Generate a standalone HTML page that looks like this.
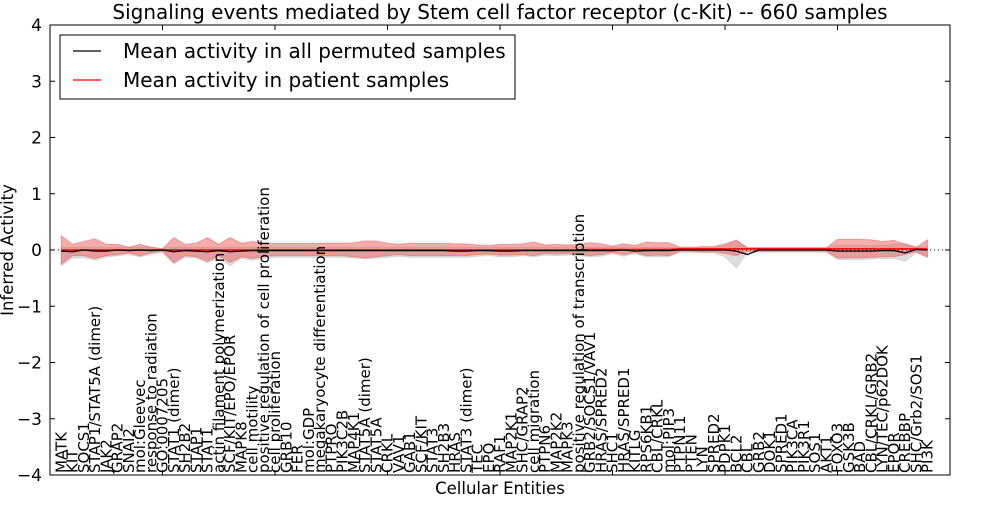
<!DOCTYPE html>
<html><head><meta charset="utf-8"><style>
body{margin:0;background:#fff;}
svg text{font-family:"DejaVu Sans","Liberation Sans",sans-serif;}
</style></head><body>
<svg id="chart" width="1000" height="500" viewBox="0 0 1000 500" xmlns="http://www.w3.org/2000/svg"></svg>
<script>
const labels=["MATK","KIT","SOCS1","STAP1/STAT5A (dimer)","JAK2","GRAP2","SNAI2","mol:Gleevec","response to radiation","GO:0007205","STAT1 (dimer)","SH2B2","STAP1","STAT1","actin filament polymerization","SCF/KIT/EPO/EPOR","MAPK8","cell motility","positive regulation of cell proliferation","cell proliferation","GRB10","FER","mol:GDP","megakaryocyte differentiation","PTPRO","PIK3C2B","MAP4K1","STAT5A (dimer)","STAT5A","CRKL","VAV1","GAB1","SCF/KIT","STAT3","SH2B3","HRAS","STAT3 (dimer)","TEC","EPO","RAF1","MAP2K1","SHC/GRAP2","cell migration","PTPN6","MAP2K2","MAPK3","positive regulation of transcription","GRB2/SOCS1/VAV1","HRAS/SPRED2","SHC1","HRAS/SPRED1","KITLG","RPS6KB1","CBL/CRKL","mol:PIP3","PTPN11","PTEN","LYN","SPRED2","PDPK1","BCL2","CBL","GRB2","DOK1","SPRED1","PIK3CA","PIK3R1","SOS1","AKT1","FOXO3","GSK3B","BAD","CBL/CRKL/GRB2","LYN/TEC/p62DOK","EPOR","CREBBP","SHC/Grb2/SOS1","PI3K"];
const patientMean=[0,0,0,0,0,0,0,0,0,0,0,0,0,0,0,0,0,0,0,0,0,0,0,0,0,0,0,0,0,0,0,0,0,0,0,0,0,0,0,0,0,0,0,0,0,0,0,0.01,0.01,0.01,0.01,0.01,0.01,0.01,0.01,0.02,0.02,0.02,0.02,0.02,0.02,0.02,0.02,0.02,0.02,0.02,0.02,0.02,0.02,0.02,0.02,0.02,0.02,0.02,0.02,0.02,0.02,0.02];
const permMean=[-0.02,-0.03,0.0,-0.02,-0.02,0.0,-0.01,0,-0.01,0,-0.03,-0.01,-0.02,-0.03,-0.01,-0.03,-0.02,-0.01,-0.01,-0.01,-0.01,-0.01,-0.01,-0.01,-0.01,-0.01,-0.01,-0.01,-0.01,-0.01,-0.01,-0.01,-0.01,-0.01,-0.01,-0.02,-0.02,-0.01,-0.01,-0.02,-0.02,-0.01,-0.01,-0.01,-0.01,-0.01,-0.01,-0.01,-0.01,-0.01,0,-0.02,-0.01,-0.01,-0.01,0,0,0,0,0,-0.02,-0.08,0,0,0,0,0,0,0,-0.02,-0.02,-0.02,-0.02,-0.01,-0.01,-0.05,0.01,0.0];
const redUpper=[0.25,0.1,0.15,0.2,0.1,0.1,0.05,0.1,0.05,0.02,0.22,0.1,0.12,0.22,0.1,0.22,0.12,0.15,0.12,0.12,0.12,0.12,0.12,0.12,0.12,0.12,0.13,0.16,0.16,0.12,0.1,0.12,0.12,0.12,0.12,0.11,0.11,0.09,0.08,0.1,0.1,0.11,0.14,0.09,0.1,0.09,0.1,0.13,0.11,0.07,0.11,0.08,0.14,0.13,0.13,0.05,0.05,0.06,0.06,0.11,0.17,0.04,0.04,0.04,0.04,0.04,0.04,0.04,0.04,0.19,0.19,0.19,0.18,0.15,0.17,0.1,0.05,0.18];
const redLower=[-0.25,-0.1,-0.1,-0.15,-0.1,-0.08,-0.05,-0.1,-0.05,-0.02,-0.22,-0.1,-0.12,-0.2,-0.1,-0.22,-0.12,-0.15,-0.12,-0.1,-0.1,-0.1,-0.1,-0.1,-0.1,-0.1,-0.12,-0.14,-0.12,-0.1,-0.08,-0.1,-0.1,-0.1,-0.1,-0.1,-0.1,-0.08,-0.07,-0.09,-0.09,-0.08,-0.1,-0.06,-0.07,-0.06,-0.08,-0.1,-0.08,-0.04,-0.08,-0.04,-0.1,-0.09,-0.1,-0.02,-0.02,-0.03,-0.03,-0.06,-0.1,-0.02,-0.02,-0.02,-0.02,-0.02,-0.02,-0.02,-0.02,-0.14,-0.14,-0.14,-0.13,-0.12,-0.12,-0.08,-0.03,-0.12];
const greyUpper=[0.05,0.05,0.05,0.05,0.05,0.05,0.05,0.05,0.05,0.03,0.05,0.05,0.05,0.05,0.05,0.05,0.05,0.05,0.05,0.05,0.05,0.05,0.05,0.05,0.05,0.05,0.05,0.05,0.05,0.05,0.05,0.05,0.05,0.05,0.05,0.05,0.05,0.05,0.05,0.05,0.05,0.05,0.05,0.05,0.05,0.05,0.05,0.05,0.05,0.05,0.05,0.05,0.05,0.05,0.05,0.04,0.04,0.04,0.04,0.08,0.18,0.04,0.04,0.04,0.04,0.04,0.04,0.04,0.04,0.08,0.08,0.08,0.08,0.08,0.1,0.12,0.05,0.06];
const greyLower=[-0.28,-0.14,-0.14,-0.18,-0.13,-0.1,-0.08,-0.12,-0.08,-0.04,-0.25,-0.13,-0.14,-0.23,-0.13,-0.28,-0.15,-0.18,-0.15,-0.13,-0.13,-0.13,-0.13,-0.13,-0.13,-0.13,-0.14,-0.16,-0.15,-0.13,-0.11,-0.13,-0.13,-0.13,-0.13,-0.13,-0.13,-0.11,-0.1,-0.12,-0.12,-0.1,-0.12,-0.09,-0.1,-0.09,-0.1,-0.12,-0.11,-0.07,-0.11,-0.07,-0.12,-0.12,-0.12,-0.04,-0.04,-0.05,-0.05,-0.12,-0.32,-0.04,-0.04,-0.04,-0.04,-0.04,-0.04,-0.04,-0.04,-0.17,-0.17,-0.17,-0.16,-0.15,-0.15,-0.2,-0.05,-0.14];
const yTicks=[-4,-3,-2,-1,0,1,2,3,4];
const xTicks=[10,20,30,40,50,60,70];

const NS="http://www.w3.org/2000/svg";
const svg=document.getElementById('chart');
const L=50,R=950,T=25,B=475;
const X=v=>L+(v/80)*(R-L);
const Y=v=>T+(4-v)/8*(B-T);
const xi=i=>X(i+1);
function mk(tag,attrs,parent){const e=document.createElementNS(NS,tag);for(const k in attrs)e.setAttribute(k,attrs[k]);(parent||svg).appendChild(e);return e;}
function band(up,lo,fill,name){
  let d='M'+up.map((v,i)=>xi(i)+','+Y(v)).join('L');
  for(let i=lo.length-1;i>=0;i--)d+='L'+xi(i)+','+Y(lo[i]);
  const p=mk('path',{d:d+'Z',fill:fill,stroke:fill,'stroke-width':1});
  
  
}
band(greyUpper,greyLower,'rgba(190,190,190,0.5)','permuted-band');
band(redUpper,redLower,'rgba(235,90,90,0.5)','patient-band');
const zl=mk('line',{x1:L,x2:R,y1:Y(0),y2:Y(0),stroke:'#000','stroke-dasharray':'1,3','stroke-width':1});


const pl=mk('polyline',{points:patientMean.map((v,i)=>xi(i)+','+Y(v)).join(' '),fill:'none',stroke:'#f00','stroke-width':1.5});


const bl=mk('polyline',{points:permMean.map((v,i)=>xi(i)+','+Y(v)).join(' '),fill:'none',stroke:'#000','stroke-width':1.3});


const fr=mk('rect',{x:L,y:T,width:R-L,height:B-T,fill:'none',stroke:'#000','stroke-width':1});


yTicks.forEach(v=>{
  mk('line',{x1:L,x2:L+5,y1:Y(v),y2:Y(v),stroke:'#000'});
  mk('line',{x1:R,x2:R-5,y1:Y(v),y2:Y(v),stroke:'#000'});
  const t=mk('text',{x:L-8,y:Y(v)+6,'text-anchor':'end','font-size':17});
  t.textContent=(v<0?'\u2212'+(-v):v);
  
  
});
xTicks.forEach(v=>{
  mk('line',{x1:X(v),x2:X(v),y1:T,y2:T+5,stroke:'#000'});
  mk('line',{x1:X(v),x2:X(v),y1:B,y2:B-5,stroke:'#000'});
});
labels.forEach((s,i)=>{
  const x=xi(i)+5,y=B-2;
  const t=mk('text',{x:x,y:y,transform:'rotate(-90 '+x+' '+y+')','font-size':15});
  t.textContent=s;
  
  
});
const title=mk('text',{x:500,y:19,'text-anchor':'middle','font-size':20});
title.textContent='Signaling events mediated by Stem cell factor receptor (c-Kit) -- 660 samples';


const xl=mk('text',{x:500,y:494,'text-anchor':'middle','font-size':16.5});
xl.textContent='Cellular Entities';


const yl=mk('text',{x:13,y:250,'text-anchor':'middle','font-size':16.5,transform:'rotate(-90 13 250)'});
yl.textContent='Inferred Activity';


const lg=mk('g',{});


mk('rect',{x:60,y:35,width:455,height:64,fill:'#fff',stroke:'#000','stroke-width':1},lg);
mk('line',{x1:73,x2:101,y1:51,y2:51,stroke:'#000','stroke-width':1.3},lg);
mk('line',{x1:73,x2:101,y1:80,y2:80,stroke:'#f00','stroke-width':1.3},lg);
const l1=mk('text',{x:123,y:58,'font-size':20},lg);
l1.textContent='Mean activity in all permuted samples';


const l2=mk('text',{x:123,y:87,'font-size':20},lg);
l2.textContent='Mean activity in patient samples';


</script>
</body></html>
